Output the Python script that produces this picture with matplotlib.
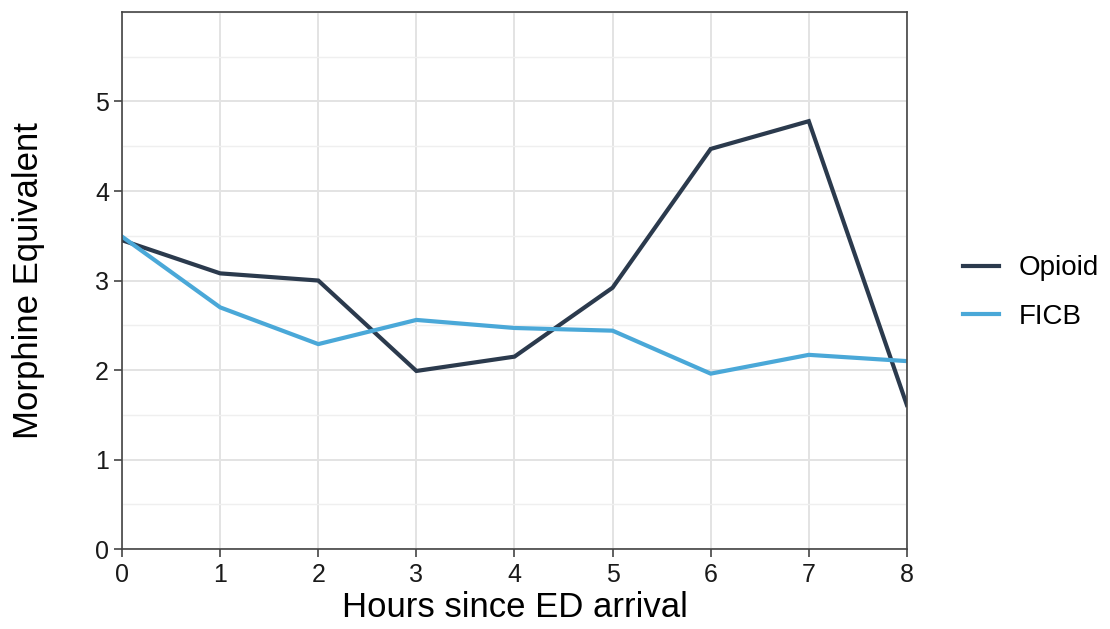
import matplotlib.pyplot as plt
from matplotlib.ticker import MultipleLocator

plt.rcParams['font.family'] = ['Liberation Sans', 'DejaVu Sans']

hours = [0, 1, 2, 3, 4, 5, 6, 7, 8]
opioid = [3.45, 3.08, 3.00, 1.99, 2.15, 2.92, 4.47, 4.78, 1.61]
ficb = [3.49, 2.70, 2.29, 2.56, 2.47, 2.44, 1.96, 2.17, 2.10]

fig = plt.figure(figsize=(11.1, 6.29), dpi=100)
ax = fig.add_axes([0.110, 0.127, 0.707, 0.854])

ax.plot(hours, opioid, color="#2b3a4d", lw=3, label="Opioid", solid_joinstyle="miter")
ax.plot(hours, ficb, color="#4aa8d8", lw=3, label="FICB", solid_joinstyle="miter")

ax.set_xlim(0, 8)
ax.set_ylim(0, 6)
ax.set_xticks(hours)
ax.set_yticks([0, 1, 2, 3, 4, 5])
ax.yaxis.set_minor_locator(MultipleLocator(0.5))
ax.grid(True, which="major", color="#e3e3e3", lw=1.4)
ax.grid(True, which="minor", axis="y", color="#efefef", lw=1.0)
ax.set_axisbelow(True)
for s in ax.spines.values():
    s.set_color("#444444")
    s.set_linewidth(1.2)
ax.tick_params(axis="both", which="major", labelsize=18, length=6, width=1.2, color="#444444", labelcolor="#1a1a1a")
ax.tick_params(axis="x", which="major", pad=4)
ax.tick_params(axis="y", which="minor", length=0)

ax.set_xlabel("Hours since ED arrival", fontsize=25, labelpad=3)
ax.set_ylabel("Morphine Equivalent", fontsize=25, labelpad=36)

leg = fig.legend(loc="center left", bbox_to_anchor=(0.845, 0.535), frameon=False,
                 fontsize=20, handlelength=1.3, handletextpad=0.7, labelspacing=0.8)

fig.savefig("out.png", dpi=100)
